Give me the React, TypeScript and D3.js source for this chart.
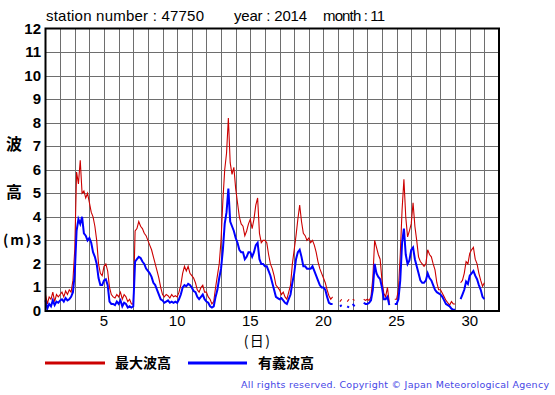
import React from 'react';
import * as d3 from 'd3';

const titleParts = ['station number : 47750', 'year : 2014', 'month : 11'];
const yTickValues = [0, 1, 2, 3, 4, 5, 6, 7, 8, 9, 10, 11, 12];
const xTickValues = [5, 10, 15, 20, 25, 30];
const legendLabels = ['最大波高', '有義波高'];
const stepsPerDay = 8;

// 最大波高 (3-hourly, Nov 1 00h .. Dec 1 00h)
const maxWave: (number | null)[] = [
  0.7, 0.3, 0.6, 0.5, 0.8, 0.4, 0.7, 0.6,
  0.7, 0.8, 0.6, 0.85, 0.7, 0.9, 0.8, 1.3,
  2.6, 5.9, 5.4, 6.4, 5.0, 5.1, 4.8, 5.0,
  4.6, 4.2, 4.0, 3.6, 3.0, 2.0, 1.6, 1.5,
  1.9, 2.0, 1.7, 1.0, 0.7, 0.6, 0.55, 0.7,
  0.6, 0.8, 0.5, 0.7, 0.6, 0.4, 0.5, 0.3,
  0.3, 3.4, 3.5, 3.8, 3.6, 3.5, 3.3, 3.2,
  3.0, 2.8, 2.6, 2.3, 2.0, 1.7, 1.4, 1.0,
  0.7, 0.6, 0.7, 0.65, 0.55, 0.7, 0.6, 0.65,
  0.6, 0.8, 1.1, 1.6, 1.9, 1.7, 1.9, 1.6,
  1.5, 1.4, 1.2, 0.9, 0.8, 1.0, 1.1, 0.8,
  0.8, 0.6, 0.5, 0.3, 0.4, 1.0, 1.5, 2.0,
  3.0, 4.7, 6.0, 6.7, 8.2, 6.3, 5.8, 6.1,
  5.2, 4.6, 4.0, 3.7, 3.6, 3.2, 3.4, 3.7,
  3.9, 3.5, 3.9, 4.5, 4.8, 3.3, 2.9, 3.0,
  3.0, 2.9, 2.4, 2.0, 1.8, 1.5, 1.1, 1.0,
  0.9, 0.7, 0.8, 0.6, 0.5, 0.8, 1.1, 2.0,
  2.6, 3.2, 3.9, 4.5, 3.8, 3.3, 3.2, 3.0,
  3.1, 2.9, 3.0, 2.8, 2.5, 2.1, 1.8, 1.6,
  1.4, 1.2, 0.9, 0.65, 0.5, 0.6, null, null,
  null, 0.4, 0.5, null, null, 0.4, 0.5, null,
  0.5, 0.45, null, null, null, null, 0.5, 0.45,
  0.5, 0.45, 0.6, 1.4, 3.0, 2.7, 2.4, 2.2,
  1.3, 0.75, 0.6, 1.0, 0.35, null, null, 0.5,
  0.5, 0.9, 2.4, 4.3, 5.6, 4.0, 3.15, 3.4,
  3.7, 4.6, 3.6, 3.0, 2.3, 2.1, 2.0, 1.9,
  2.0, 2.6, 2.4, 2.3, 2.0, 1.75, 1.2, 0.9,
  0.9, 0.75, 0.6, 0.45, 0.35, 0.25, 0.4, 0.3,
  0.3, null, null, 1.2, 1.3, 1.6, 2.1, 2.0,
  2.45, 2.6, 2.7, 2.2, 2.0, 1.6, 1.3, 1.05,
  1.2,
];

// 有義波高
const sigWave: (number | null)[] = [
  0.45, 0.1, 0.3, 0.2, 0.45, 0.25, 0.4, 0.35,
  0.45, 0.5, 0.4, 0.55, 0.45, 0.5, 0.6, 0.8,
  1.6, 3.4, 3.9, 3.7, 4.0, 3.3, 3.2, 3.0,
  3.1, 2.9, 2.5, 2.3, 2.0, 1.4, 1.1, 1.1,
  1.3, 1.35, 1.1, 0.4, 0.3, 0.3, 0.25, 0.4,
  0.3, 0.45, 0.2, 0.35, 0.3, 0.15, 0.2, 0.15,
  0.2, 2.1, 2.2, 2.3, 2.25, 2.1, 2.0, 1.8,
  1.7, 1.6, 1.45, 1.2, 1.1, 0.9, 0.7, 0.5,
  0.45, 0.35, 0.4, 0.45, 0.35, 0.4, 0.35, 0.4,
  0.35, 0.5, 0.7, 1.0, 1.1, 1.05, 1.15, 1.1,
  1.0, 0.85, 0.8, 0.6, 0.5, 0.6, 0.7, 0.5,
  0.4, 0.35, 0.2, 0.15, 0.2, 0.6, 0.9, 1.4,
  1.8, 2.6, 3.7, 4.2, 5.2, 3.8, 3.6, 3.4,
  3.1, 2.9, 2.6, 2.5, 2.5, 2.2, 2.3, 2.5,
  2.5, 2.3, 2.5, 2.8, 2.9, 2.2, 2.0, 2.0,
  1.9, 1.9, 1.7, 1.5, 1.2, 0.9, 0.6, 0.55,
  0.5, 0.55, 0.45, 0.35, 0.3, 0.5, 0.7, 1.2,
  1.6, 2.2, 2.5, 2.6, 2.3, 1.9, 1.9, 1.8,
  1.8, 1.8, 1.9, 1.7, 1.5, 1.3, 1.1, 1.0,
  1.0, 0.9, 0.6, 0.35, 0.3, 0.3, null, null,
  null, 0.2, 0.25, null, null, 0.2, 0.15, null,
  0.3, 0.2, null, null, null, null, 0.35, 0.3,
  0.3, 0.35, 0.45, 0.9, 2.0, 1.6, 1.45, 1.35,
  1.0, 0.5, 0.5, 0.6, 0.25, null, null, 0.3,
  0.3, 0.5, 1.3, 2.9, 3.5, 2.4, 2.0, 2.15,
  2.6, 2.7, 2.2, 1.9, 1.6, 1.3, 1.2, 1.2,
  1.3, 1.6, 1.4, 1.3, 1.1, 0.9, 0.8, 0.75,
  0.7, 0.6, 0.45, 0.3, 0.25, 0.2, 0.1, 0.05,
  0.05, null, null, 0.5, 0.7, 0.9, 1.25, 1.15,
  1.5, 1.6, 1.7, 1.5, 1.35, 1.1, 0.9, 0.6,
  0.5,
];

const W = 555;
const H = 395;
const left = 45.5;
const right = 499;
const top = 28.5;
const bottom = 311;

export default function App() {
  const x = d3.scaleLinear().domain([1, 32]).range([left, right]);
  const y = d3.scaleLinear().domain([0, 12]).range([bottom, top]);
  const dayGrid = d3.range(2, 32);
  const line = d3
    .line<number | null>()
    .defined((v) => v != null)
    .x((_, i) => x(1 + i / stepsPerDay))
    .y((v) => y(v as number));

  const sans = 'Liberation Sans, Arial, Helvetica, sans-serif';
  const cjk = "'Noto Sans CJK JP', sans-serif";

  return (
    <svg
      width={W}
      height={H}
      style={{ position: 'absolute', left: 0, top: 0, background: '#fff' }}
    >
      <rect x={0} y={0} width={W} height={H} fill="#fff" />
      {/* title */}
      <text x={46} y={21} fontFamily={sans} fontSize={15} fill="#000" textLength={158} lengthAdjust="spacing">
        {titleParts[0]}
      </text>
      <text x={234} y={21} fontFamily={sans} fontSize={15} fill="#000" textLength={73} lengthAdjust="spacing">
        {titleParts[1]}
      </text>
      <text x={323} y={21} fontFamily={sans} fontSize={15} fill="#000" textLength={62} lengthAdjust="spacing">
        {titleParts[2]}
      </text>

      {/* grid */}
      {dayGrid.map((d) => (
        <line
          key={'v' + d}
          x1={Math.round(x(d)) + 0.5}
          x2={Math.round(x(d)) + 0.5}
          y1={top}
          y2={bottom}
          stroke="#6e6e6e"
          strokeWidth={1}
        />
      ))}
      {yTickValues.slice(1, -1).map((v) => (
        <line
          key={'h' + v}
          x1={left}
          x2={right}
          y1={Math.round(y(v)) + 0.5}
          y2={Math.round(y(v)) + 0.5}
          stroke="#6e6e6e"
          strokeWidth={1}
        />
      ))}

      {/* series */}
      <path d={line(maxWave) || ''} fill="none" stroke="#cc0000" strokeWidth={1.1} />
      <path d={line(sigWave) || ''} fill="none" stroke="#0000ff" strokeWidth={2} />

      {/* frame */}
      <rect
        x={left}
        y={top}
        width={right - left}
        height={bottom - top}
        fill="none"
        stroke="#000"
        strokeWidth={2}
      />

      {/* y tick labels */}
      {yTickValues.map((v) => (
        <text
          key={'yl' + v}
          x={41}
          y={y(v) + 5}
          textAnchor="end"
          fontFamily={sans}
          fontWeight="bold"
          fontSize={15}
          fill="#000"
        >
          {v}
        </text>
      ))}
      {/* x tick labels */}
      {xTickValues.map((d) => (
        <text
          key={'xl' + d}
          x={x(d)}
          y={326}
          textAnchor="middle"
          fontFamily={sans}
          fontSize={15}
          fill="#000"
        >
          {d}
        </text>
      ))}
      <text x={x(15.5)} y={346} textAnchor="middle" fontFamily={cjk} fontSize={14} letterSpacing={1.5} fill="#000">
        (日)
      </text>

      {/* y axis title */}
      <text x={14} y={150} textAnchor="middle" fontFamily={cjk} fontWeight="bold" fontSize={16} fill="#000">
        波
      </text>
      <text x={14} y={198} textAnchor="middle" fontFamily={cjk} fontWeight="bold" fontSize={16} fill="#000">
        高
      </text>
      <text x={18} y={245} textAnchor="middle" fontFamily={cjk} fontWeight="bold" fontSize={14} letterSpacing={2} fill="#000">
        (m)
      </text>

      {/* legend */}
      <line x1={45} x2={105} y1={363} y2={363} stroke="#cc0000" strokeWidth={3} />
      <text x={115} y={368} fontFamily={cjk} fontWeight="bold" fontSize={14} fill="#000">
        {legendLabels[0]}
      </text>
      <line x1={188} x2={247} y1={363} y2={363} stroke="#0000ff" strokeWidth={3} />
      <text x={258} y={368} fontFamily={cjk} fontWeight="bold" fontSize={14} fill="#000">
        {legendLabels[1]}
      </text>

      {/* copyright */}
      <text
        x={241}
        y={388}
        fontFamily="DejaVu Sans, Verdana, sans-serif"
        fontSize={9.5}
        fill="#4646e6"
        textLength={308}
        lengthAdjust="spacing"
      >
        All rights reserved. Copyright © Japan Meteorological Agency
      </text>
    </svg>
  );
}
